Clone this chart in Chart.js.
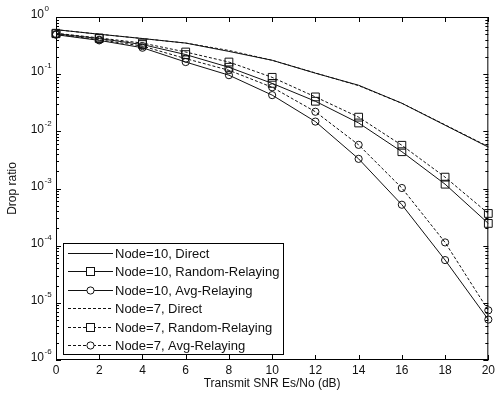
<!DOCTYPE html>
<html>
<head>
<meta charset="utf-8">
<script src="https://cdn.jsdelivr.net/npm/chart.js@4/dist/chart.umd.min.js"></script>
<style>
  html, body { margin: 0; background: #fff; }
  #wrap { width: 498px; height: 393px; position: relative; }
</style>
</head>
<body>
<div id="wrap"><canvas id="chDrop"></canvas></div>
<script>
// SNR points (dB) - also the x tick labels
const snr = [0, 2, 4, 6, 8, 10, 12, 14, 16, 18, 20];

// drop ratio
const direct10 = [0.60, 0.50, 0.42, 0.35, 0.25, 0.175, 0.104, 0.064, 0.031, 0.0128, 0.0053];
const random10 = [0.51, 0.42, 0.33, 0.22, 0.132, 0.069, 0.0336, 0.014, 0.0044, 0.00119, 0.000245];
const avg10    = [0.49, 0.39, 0.29, 0.163, 0.096, 0.043, 0.0148, 0.0033, 0.00052, 0.000056, 0.0000051];
const direct7  = [0.60, 0.50, 0.42, 0.35, 0.26, 0.175, 0.105, 0.063, 0.031, 0.013, 0.0054];
const random7  = [0.52, 0.43, 0.35, 0.244, 0.163, 0.088, 0.040, 0.0177, 0.0057, 0.00158, 0.000366];
const avg7     = [0.50, 0.40, 0.31, 0.187, 0.117, 0.059, 0.022, 0.0058, 0.00102, 0.000114, 0.0000074];

const seriesLabels = ['Node=10, Direct', 'Node=10, Random-Relaying', 'Node=10, Avg-Relaying',
                      'Node=7, Direct', 'Node=7, Random-Relaying', 'Node=7, Avg-Relaying'];
// y tick labels: 10^exp
const yExps = [0, -1, -2, -3, -4, -5, -6];

const FONT = '"Liberation Sans", Arial, sans-serif';
const INK = '#111';

function mkSet(label, data, dash, shape) {
  return {
    label, data: snr.map((x, i) => ({ x, y: data[i] })),
    borderColor: INK, borderWidth: 1, borderDash: dash, tension: 0, fill: false, clip: false,
    pointStyle: shape || 'circle',
    pointRadius: shape ? (shape === 'rect' ? 5.5 : 3.6) : 0,
    pointHoverRadius: 0,
    pointBorderColor: INK, pointBorderWidth: 1, pointBackgroundColor: 'rgba(0,0,0,0)',
    _shape: shape || null,
  };
}

// box frame + inward MATLAB-style ticks + y labels with exponents
const frame = {
  id: 'frame',
  beforeDatasetsDraw(c) {
    const { ctx, chartArea: a } = c;
    const xs = c.scales.x, ys = c.scales.y;
    ctx.save();
    ctx.strokeStyle = '#000'; ctx.lineWidth = 1;
    ctx.strokeRect(a.left + 0.5, a.top + 0.5, a.right - a.left - 1, a.bottom - a.top - 1);
    ctx.beginPath();
    snr.forEach(v => {
      const px = Math.round(xs.getPixelForValue(v)) + 0.5;
      ctx.moveTo(px, a.bottom); ctx.lineTo(px, a.bottom - 5);
      ctx.moveTo(px, a.top); ctx.lineTo(px, a.top + 5);
    });
    yExps.forEach(e => {
      const py = Math.round(ys.getPixelForValue(Math.pow(10, e))) + 0.5;
      ctx.moveTo(a.left, py); ctx.lineTo(a.left + 5, py);
      ctx.moveTo(a.right, py); ctx.lineTo(a.right - 5, py);
      if (e > -6) {
        for (let m = 2; m <= 9; m++) {
          const pm = Math.round(ys.getPixelForValue(m * Math.pow(10, e - 1))) + 0.5;
          ctx.moveTo(a.left, pm); ctx.lineTo(a.left + 3, pm);
          ctx.moveTo(a.right, pm); ctx.lineTo(a.right - 3, pm);
        }
      }
    });
    ctx.stroke();

    ctx.fillStyle = INK;
    yExps.forEach(e => {
      const py = ys.getPixelForValue(Math.pow(10, e));
      ctx.font = '12px ' + FONT; ctx.textAlign = 'right'; ctx.textBaseline = 'middle';
      ctx.fillText('10', 44, py - 2);
      ctx.font = '8px ' + FONT; ctx.textAlign = 'left';
      ctx.fillText(String(e), 44.5, py - 8);
    });
    ctx.restore();
  },
  afterDatasetsDraw(c) {
    const { ctx } = c;
    ctx.save();
    // legend box
    const L = { x: 63, y: 243, w: 220, h: 111, row: 18.4 };
    ctx.fillStyle = '#fff';
    ctx.fillRect(L.x, L.y, L.w, L.h);
    ctx.strokeStyle = '#000'; ctx.lineWidth = 1;
    ctx.strokeRect(L.x + 0.5, L.y + 0.5, L.w, L.h);
    c.data.datasets.forEach((d, i) => {
      const cy = Math.round(L.y + 10 + i * L.row) + 0.5;
      ctx.strokeStyle = INK; ctx.lineWidth = 1;
      ctx.setLineDash(d.borderDash || []);
      ctx.beginPath(); ctx.moveTo(L.x + 5, cy); ctx.lineTo(L.x + 50, cy); ctx.stroke();
      ctx.setLineDash([]);
      const mx = L.x + 27.5;
      if (d._shape === 'rect') {
        ctx.fillStyle = '#fff'; ctx.fillRect(mx - 4, cy - 4, 8, 8);
        ctx.strokeRect(mx - 4, cy - 4, 8, 8);
      } else if (d._shape === 'circle') {
        ctx.fillStyle = '#fff';
        ctx.beginPath(); ctx.arc(mx, cy, 3.6, 0, Math.PI * 2); ctx.fill(); ctx.stroke();
      }
      ctx.fillStyle = INK;
      ctx.font = '13px ' + FONT; ctx.textAlign = 'left'; ctx.textBaseline = 'middle';
      ctx.fillText(d.label, L.x + 52, cy + 0.5);
    });
    ctx.restore();
  }
};

new Chart(document.getElementById('chDrop'), {
  type: 'line',
  data: {
    datasets: [
      mkSet(seriesLabels[0], direct10, [], null),
      mkSet(seriesLabels[1], random10, [], 'rect'),
      mkSet(seriesLabels[2], avg10, [], 'circle'),
      mkSet(seriesLabels[3], direct7, [3, 2], null),
      mkSet(seriesLabels[4], random7, [3, 2], 'rect'),
      mkSet(seriesLabels[5], avg7, [3, 2], 'circle'),
    ]
  },
  options: {
    responsive: true, maintainAspectRatio: false, animation: false,
    layout: { padding: { top: 17, right: 9, left: 0, bottom: 0 } },
    plugins: { legend: { display: false }, tooltip: { enabled: false } },
    scales: {
      x: {
        type: 'linear', min: 0, max: 20,
        afterFit: s => { s.height = 33; },
        afterBuildTicks: s => { s.ticks = snr.map(v => ({ value: v })); },
        grid: { display: false, drawTicks: false },
        border: { display: false },
        ticks: { color: INK, font: { family: FONT, size: 12 }, padding: 3, maxRotation: 0 },
        title: { display: true, text: 'Transmit SNR Es/No (dB)', color: INK,
                 font: { family: FONT, size: 12 }, padding: { top: 0, bottom: 2 } },
      },
      y: {
        type: 'logarithmic', min: 1e-6, max: 1,
        afterFit: s => { s.width = 56; },
        grid: { display: false, drawTicks: false },
        border: { display: false },
        ticks: { display: false },
        title: { display: true, text: 'Drop ratio', color: INK,
                 font: { family: FONT, size: 12 }, padding: { top: 5, bottom: 0 } },
      }
    }
  },
  plugins: [frame]
});
</script>
</body>
</html>
